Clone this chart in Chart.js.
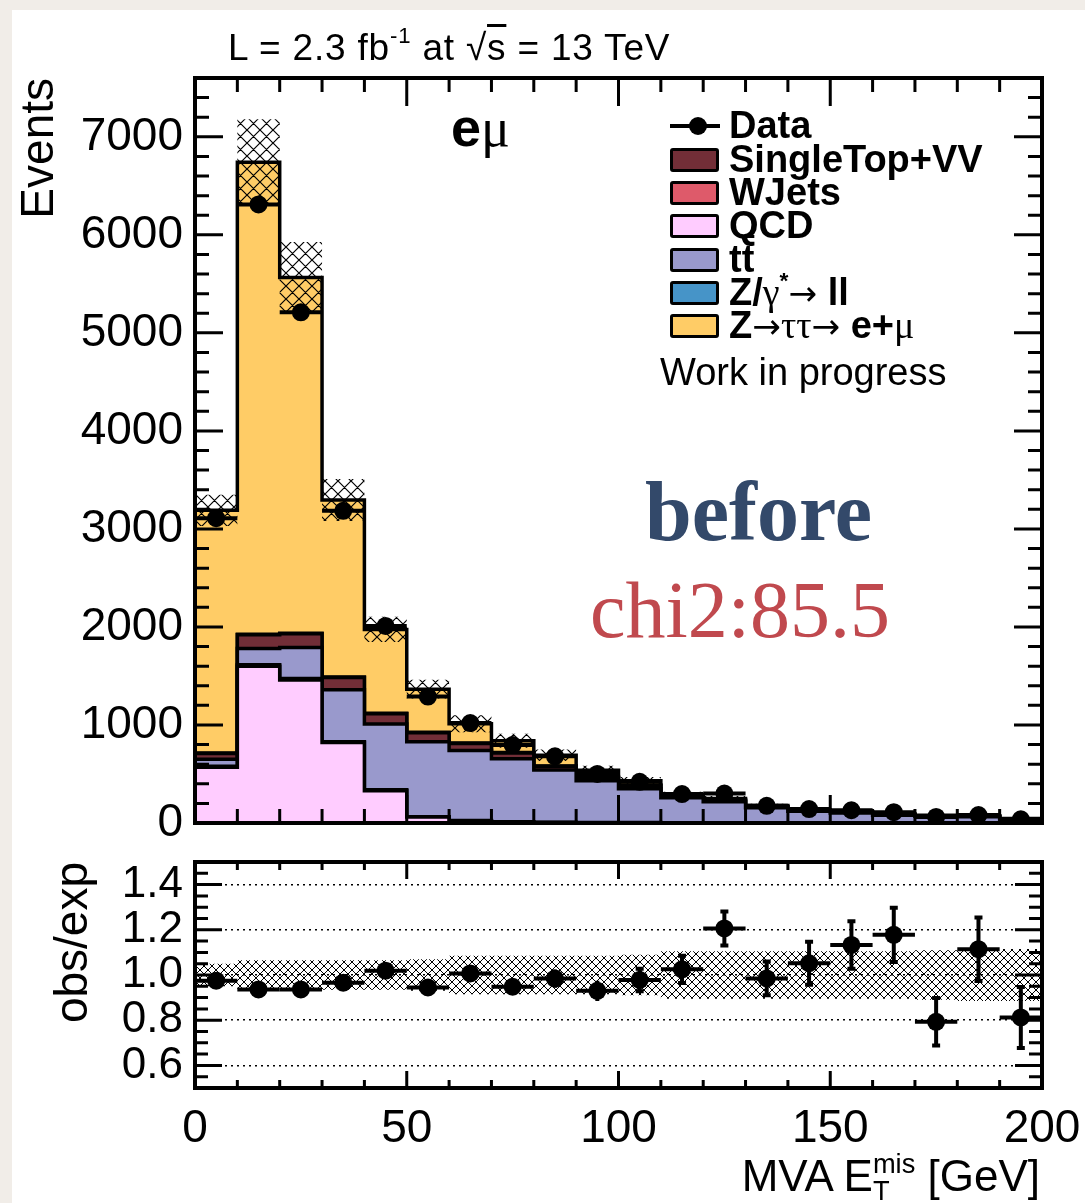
<!DOCTYPE html>
<html>
<head>
<meta charset="utf-8">
<script src="https://cdn.jsdelivr.net/npm/chart.js@4.4.1/dist/chart.umd.min.js"></script>
<style>
  html, body { margin: 0; padding: 0; }
  body { width: 1085px; height: 1203px; background: #f1ede8; position: relative; overflow: hidden;
         font-family: 'Liberation Sans', Arial, Helvetica, sans-serif; }
  #card { position: absolute; left: 12px; top: 10px; right: 0; bottom: 0; background: #fff; }
  canvas { position: absolute; left: 0; }
  .t { position: absolute; line-height: 1; white-space: nowrap; color: #000; }
  .sup { font-size: 0.6em; position: relative; top: -0.75em; }
  .g { font-family: 'Liberation Serif', 'Times New Roman', serif; font-weight: normal; }
  .ar { font-family: 'DejaVu Sans', sans-serif; font-weight: normal; font-size: 0.9em; }
  .box { position: absolute; left: 670px; width: 49px; height: 24px; border: 3px solid #000;
         border-radius: 3px; box-sizing: border-box; }
  .lt { position: absolute; left: 729px; font-size: 38px; font-weight: bold; line-height: 1; white-space: nowrap; }
</style>
</head>
<body>
<div id="card"></div>
<canvas id="top" width="1085" height="850" style="top:0"></canvas>
<canvas id="ratio" width="1085" height="353" style="top:850px"></canvas>

<div class="t" style="left:228px; top:29px; font-size:37px; letter-spacing:0.8px;">L = 2.3 fb<span class="sup">-1</span> at √<span style="text-decoration:overline">s</span> = 13 TeV</div>
<div class="t" style="left:451px; top:100px; font-size:54px; font-weight:bold;">e<span class="g">μ</span></div>

<!-- legend -->
<div style="position:absolute; left:670px; top:124px; width:50px; height:4px; background:#000;"></div>
<div style="position:absolute; left:689px; top:117px; width:18px; height:18px; border-radius:50%; background:#000;"></div>
<div class="lt" style="top:106px;">Data</div>
<div class="box" style="top:148px; background:#722e37;"></div>
<div class="lt" style="top:140px;">SingleTop+VV</div>
<div class="box" style="top:181px; background:#de5a6a;"></div>
<div class="lt" style="top:173px;">WJets</div>
<div class="box" style="top:214px; background:#ffccff;"></div>
<div class="lt" style="top:206px;">QCD</div>
<div class="box" style="top:248px; background:#9999cc;"></div>
<div class="lt" style="top:240px;">t<span style="text-decoration:overline">t</span></div>
<div class="box" style="top:281px; background:#4694c8;"></div>
<div class="lt" style="top:273px;">Z/<span class="g">γ</span><span class="sup">*</span><span class="ar">→</span> ll</div>
<div class="box" style="top:314px; background:#ffcc66;"></div>
<div class="lt" style="top:306px;">Z<span class="ar">→</span><span class="g">ττ</span><span class="ar">→</span> e+<span class="g">μ</span></div>
<div class="t" style="left:660px; top:353px; font-size:38px;">Work in progress</div>

<div class="t" style="left:645px; top:470px; font-size:84px; font-weight:bold; color:#33496a; font-family:'Liberation Serif', serif;">before</div>
<div class="t" style="left:590px; top:570px; font-size:80px; color:#c0494e; font-family:'Liberation Serif', serif;">chi2:85.5</div>

<div class="t" style="right:45px; top:1150px; font-size:44px;">MVA E<span style="display:inline-block; vertical-align:-0.35em; font-size:0.62em; line-height:1;"><span style="display:block">mis</span><span style="display:block">T</span></span> [GeV]</div>

<script>
// binning of MVA MET [GeV]
const binEdges = [0, 10, 20, 30, 40, 50, 60, 70, 80, 90, 100, 110, 120, 130, 140, 150, 160, 170, 180, 190, 200];

// stacked backgrounds, bottom to top
const qcd       = [570, 1600, 1460, 820, 330, 60, 20, 8, 5, 3, 2, 1, 1, 0, 0, 0, 0, 0, 0, 0];
const wJets     = [10, 15, 15, 10, 10, 5, 5, 5, 3, 2, 2, 1, 1, 1, 1, 1, 0, 0, 0, 0];
const ttbar     = [70, 165, 315, 530, 670, 765, 715, 642, 532, 425, 345, 255, 215, 155, 118, 100, 80, 68, 63, 40];
const singleTop = [60, 140, 140, 125, 105, 90, 70, 60, 40, 35, 35, 15, 15, 10, 8, 7, 6, 5, 5, 3];
const zLL       = [5, 5, 5, 5, 5, 5, 5, 3, 2, 2, 1, 1, 1, 1, 1, 0, 0, 0, 0, 0];
const zTauTau   = [2475, 4816, 3631, 1806, 855, 440, 198, 121, 109, 71, 45, 15, 16, 11, 7, 7, 7, 5, 5, 3];

const dataCounts = [3110, 6310, 5210, 3185, 2010, 1290, 1020, 795, 680, 500, 420, 295, 300, 175, 142, 130, 110, 62, 81, 38];
const dataErr    = [56, 79, 72, 56, 45, 36, 32, 28, 26, 22, 20, 17, 17, 13, 12, 11, 10, 8, 9, 6];

// ratio panel
const ratioVals = [0.975, 0.936, 0.936, 0.966, 1.019, 0.945, 1.007, 0.948, 0.984, 0.93, 0.978, 1.025, 1.206, 0.985, 1.052, 1.133, 1.178, 0.793, 1.114, 0.812];
const ratioErr  = [0.02, 0.015, 0.015, 0.02, 0.025, 0.03, 0.035, 0.035, 0.04, 0.045, 0.05, 0.06, 0.075, 0.075, 0.095, 0.105, 0.12, 0.105, 0.14, 0.135];
const mcRelErr  = [0.05, 0.065, 0.065, 0.065, 0.065, 0.07, 0.085, 0.085, 0.085, 0.085, 0.09, 0.105, 0.105, 0.105, 0.105, 0.105, 0.105, 0.11, 0.115, 0.115];

const xTicks = [0, 50, 100, 150, 200];
const yTicksTop = [0, 1000, 2000, 3000, 4000, 5000, 6000, 7000];
const yTicksRatio = [0.6, 0.8, 1.0, 1.2, 1.4];

const stackLayers = [qcd, wJets, ttbar, singleTop, zLL, zTauTau];
const stackColors = ['#ffccff', '#de5a6a', '#9999cc', '#722e37', '#4694c8', '#ffcc66'];

Chart.defaults.font.family = "'Liberation Sans', Arial, Helvetica, sans-serif";
Chart.defaults.color = '#000';

// cumulative sums for the stack
let running = binEdges.slice(1).map(() => 0);
const cumul = stackLayers.map(layer => {
  running = running.map((v, i) => v + layer[i]);
  return running.slice();
});
const mcTotal = cumul[cumul.length - 1];

function steps(vals) {
  return binEdges.map((e, i) => ({ x: e, y: vals[Math.min(i, vals.length - 1)] }));
}
function centers(vals) {
  return vals.map((v, i) => ({ x: (binEdges[i] + binEdges[i + 1]) / 2, y: v }));
}

function makeHatch(size, lw) {
  const c = document.createElement('canvas');
  c.width = c.height = size;
  const g = c.getContext('2d');
  g.strokeStyle = '#000';
  g.lineWidth = lw;
  g.beginPath();
  for (const o of [-size, 0, size]) {
    g.moveTo(o, 0); g.lineTo(o + size, size);
    g.moveTo(o + size, 0); g.lineTo(o, size);
  }
  g.stroke();
  return g.createPattern(c, 'repeat');
}

// ROOT style frame with ticks on all four sides, pointing inwards
const rootFrame = {
  id: 'rootFrame',
  afterDatasetsDraw(chart, args, o) {
    const { ctx, chartArea: a } = chart;
    const xs = chart.scales.x, ys = chart.scales.y;
    const isMajor = (v, ref, step) => Math.abs((v - ref) / step - Math.round((v - ref) / step)) < 1e-6;
    ctx.save();
    ctx.strokeStyle = '#000';
    ctx.lineWidth = 3;
    ctx.beginPath();
    const nx = Math.round((xs.max - xs.min) / o.xMinor);
    for (let i = 0; i <= nx; i++) {
      const v = xs.min + i * o.xMinor;
      const px = xs.getPixelForValue(v);
      const len = isMajor(v, 0, o.xMajor) ? o.xMajorLen : o.xMinorLen;
      ctx.moveTo(px, a.bottom); ctx.lineTo(px, a.bottom - len);
      ctx.moveTo(px, a.top); ctx.lineTo(px, a.top + len);
    }
    const ny = Math.round((ys.max - ys.min) / o.yMinor);
    for (let i = 0; i <= ny; i++) {
      const v = ys.min + i * o.yMinor;
      const py = ys.getPixelForValue(v);
      const len = isMajor(v, o.yRef, o.yMajor) ? o.yMajorLen : o.yMinorLen;
      ctx.moveTo(a.left, py); ctx.lineTo(a.left + len, py);
      ctx.moveTo(a.right, py); ctx.lineTo(a.right - len, py);
    }
    ctx.stroke();
    ctx.lineWidth = 4;
    ctx.strokeRect(a.left, a.top, a.right - a.left, a.bottom - a.top);
    ctx.restore();
  }
};

// error bars for datasets carrying errY
const errorBars = {
  id: 'errorBars',
  afterDatasetsDraw(chart) {
    const { ctx, chartArea: a } = chart;
    const xs = chart.scales.x, ys = chart.scales.y;
    ctx.save();
    ctx.beginPath();
    ctx.rect(a.left, a.top, a.right - a.left, a.bottom - a.top);
    ctx.clip();
    ctx.strokeStyle = '#000';
    ctx.lineWidth = 4;
    chart.data.datasets.forEach(ds => {
      if (!ds.errY) return;
      ds.data.forEach((p, i) => {
        const x0 = xs.getPixelForValue(binEdges[i]), x1 = xs.getPixelForValue(binEdges[i + 1]);
        const px = xs.getPixelForValue(p.x), py = ys.getPixelForValue(p.y);
        const yLo = ys.getPixelForValue(p.y - ds.errY[i]), yHi = ys.getPixelForValue(p.y + ds.errY[i]);
        ctx.beginPath();
        ctx.moveTo(x0, py); ctx.lineTo(x1, py);
        ctx.moveTo(px, yLo); ctx.lineTo(px, yHi);
        if (yLo - py > 11) {
          ctx.moveTo(px - 4, yLo); ctx.lineTo(px + 4, yLo);
          ctx.moveTo(px - 4, yHi); ctx.lineTo(px + 4, yHi);
        }
        ctx.stroke();
      });
    });
    ctx.restore();
  }
};

const noPad = s => { s.paddingTop = 0; s.paddingBottom = 0; s.paddingLeft = 0; s.paddingRight = 0; };

// ---- main panel ----
const topSets = [
  { data: centers(dataCounts), errY: dataErr, showLine: false, pointRadius: 9, pointBackgroundColor: '#000',
    pointBorderWidth: 0, order: 0 },
  { data: steps(mcTotal.map((v, i) => v * (1 + mcRelErr[i]))), stepped: true, fill: '+1',
    backgroundColor: makeHatch(13, 1.2), borderColor: 'transparent', borderWidth: 0, pointRadius: 0, order: 1 },
  { data: steps(mcTotal.map((v, i) => v * (1 - mcRelErr[i]))), stepped: true, fill: false,
    borderColor: 'transparent', borderWidth: 0, pointRadius: 0, order: 1 }
];
cumul.forEach((vals, k) => {
  topSets.push({ data: steps(vals), stepped: true, fill: 'origin', backgroundColor: stackColors[k],
    borderColor: '#000', borderWidth: 3.5, pointRadius: 0, order: 2 + k });
});

new Chart(document.getElementById('top'), {
  type: 'line',
  data: { datasets: topSets },
  options: {
    responsive: false,
    animation: false,
    layout: { padding: { left: 0, top: 78, right: 43, bottom: 27 } },
    plugins: {
      legend: { display: false },
      tooltip: { enabled: false },
      rootFrame: { xMinor: 10, xMajor: 50, xMinorLen: 14, xMajorLen: 28,
                   yMinor: 200, yMajor: 1000, yRef: 0, yMinorLen: 14, yMajorLen: 28 }
    },
    scales: {
      x: { type: 'linear', min: 0, max: 200, display: false },
      y: {
        min: 0, max: 7600,
        afterBuildTicks: s => { s.ticks = yTicksTop.map(v => ({ value: v })); },
        afterFit: s => { s.width = 195; noPad(s); },
        ticks: { font: { size: 46 }, padding: 12, color: '#000', callback: v => String(v) },
        grid: { display: false, drawTicks: false },
        border: { display: false },
        title: { display: true, text: 'Events', align: 'end', color: '#000',
                 font: { size: 46 }, padding: { top: 13, bottom: 0 } }
      }
    }
  },
  plugins: [errorBars, rootFrame]
});

// ---- ratio panel ----
new Chart(document.getElementById('ratio'), {
  type: 'line',
  data: {
    datasets: [
      { data: centers(ratioVals), errY: ratioErr, showLine: false, pointRadius: 9, pointBackgroundColor: '#000',
        pointBorderWidth: 0, order: 0 },
      { data: steps(mcRelErr.map(e => 1 + e)), stepped: true, fill: '+1', backgroundColor: makeHatch(8, 1),
        borderColor: 'transparent', borderWidth: 0, pointRadius: 0, order: 1 },
      { data: steps(mcRelErr.map(e => 1 - e)), stepped: true, fill: false,
        borderColor: 'transparent', borderWidth: 0, pointRadius: 0, order: 1 }
    ]
  },
  options: {
    responsive: false,
    animation: false,
    layout: { padding: { left: 0, top: 12, right: 43, bottom: 0 } },
    plugins: {
      legend: { display: false },
      tooltip: { enabled: false },
      rootFrame: { xMinor: 10, xMajor: 50, xMinorLen: 8, xMajorLen: 17,
                   yMinor: 0.05, yMajor: 0.2, yRef: 0.6, yMinorLen: 13, yMajorLen: 27 }
    },
    scales: {
      x: {
        type: 'linear', min: 0, max: 200,
        afterBuildTicks: s => { s.ticks = xTicks.map(v => ({ value: v })); },
        afterFit: s => { s.height = 115; noPad(s); },
        ticks: { font: { size: 46 }, padding: 14, maxRotation: 0, autoSkip: false, color: '#000',
                 callback: v => String(v) },
        grid: { display: false, drawTicks: false },
        border: { display: false }
      },
      y: {
        min: 0.5, max: 1.5,
        afterBuildTicks: s => { s.ticks = yTicksRatio.map(v => ({ value: v })); },
        afterFit: s => { s.width = 195; noPad(s); },
        ticks: { font: { size: 44 }, padding: 12, color: '#000', callback: v => v.toFixed(1) },
        grid: { color: '#000', lineWidth: 1.5, drawTicks: false },
        border: { display: false, dash: [2, 4] },
        title: { display: true, text: 'obs/exp', align: 'end', color: '#000',
                 font: { size: 46 }, padding: { top: 47, bottom: 0 } }
      }
    }
  },
  plugins: [errorBars, rootFrame]
});
</script>
</body>
</html>
